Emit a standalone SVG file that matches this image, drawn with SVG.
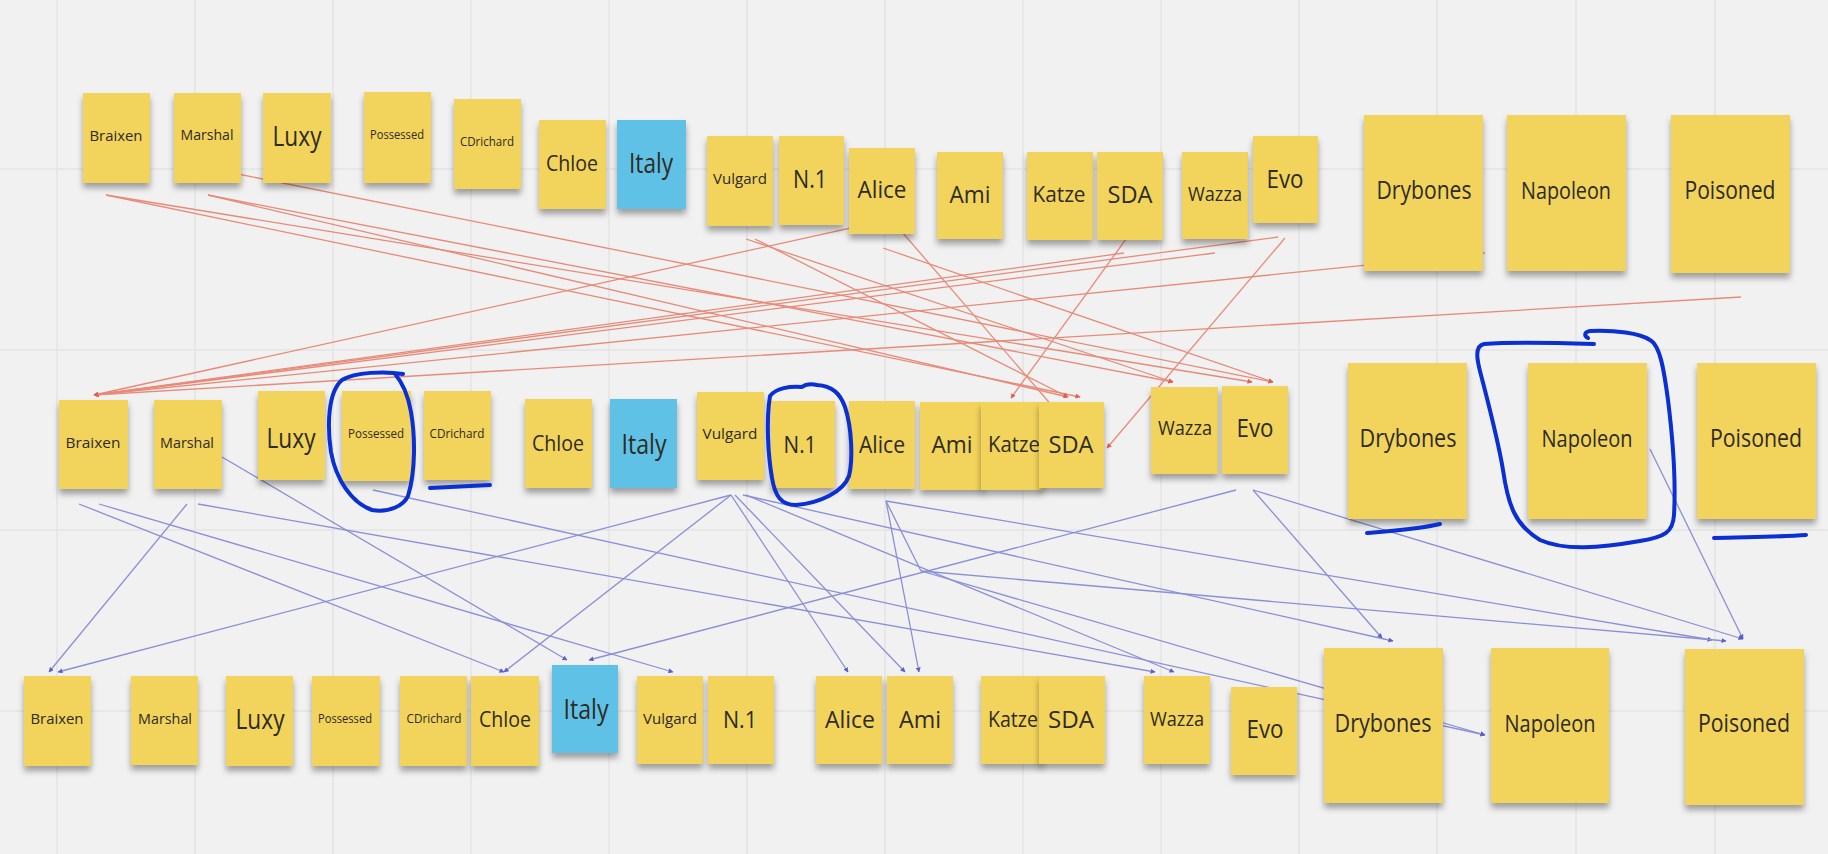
<svg xmlns="http://www.w3.org/2000/svg" width="1828" height="854" viewBox="0 0 1828 854">
<style>
.bg{fill:#f1f1f1}
.grid{stroke:#e4e4e4;stroke-width:1.5}
.n{fill:#f2d35b;filter:url(#sh)}
.b{fill:#5ec1e6;filter:url(#sh)}
.t{font-family:"Open Sans","Noto Sans",sans-serif;fill:#2e2b22;text-anchor:middle;dominant-baseline:central}
.red{stroke:#e88a78;stroke-width:1.3;fill:none;marker-end:url(#ar)}
.blu{stroke:#8b8fd8;stroke-width:1.3;fill:none;marker-end:url(#ab)}
.blu0{stroke:#8b8fd8;stroke-width:1.3;fill:none}
.pen{stroke:#0a2fd2;stroke-width:4;fill:none;stroke-linecap:round;stroke-linejoin:round}
</style>
<defs>
<filter id="sh" x="-20%" y="-20%" width="140%" height="150%">
<feDropShadow dx="0" dy="5" stdDeviation="3" flood-color="#000" flood-opacity="0.35"/>
</filter>
<marker id="ar" viewBox="0 0 10 10" refX="9" refY="5" markerWidth="5" markerHeight="5" orient="auto" markerUnits="userSpaceOnUse"><path d="M0,0L10,5L0,10z" fill="#e0604a"/></marker>
<marker id="ab" viewBox="0 0 10 10" refX="9" refY="5" markerWidth="5" markerHeight="5" orient="auto" markerUnits="userSpaceOnUse"><path d="M0,0L10,5L0,10z" fill="#5a5fcf"/></marker>
</defs>
<rect class="bg" x="0" y="0" width="1828" height="854"/>
<g id="grid">
<path class="grid" d="M57,0V854M195,0V854M333,0V854M471,0V854M609,0V854M747,0V854M885,0V854M1023,0V854M1161,0V854M1299,0V854M1437,0V854M1576,0V854M1715,0V854M0,169H1828M0,350H1828M0,530H1828M0,711H1828"/>
</g>
<g id="connectors">
<g id="red">
<line class="red" x1="106" y1="195" x2="1080" y2="397"/>
<line class="red" x1="106" y1="195" x2="1252" y2="382"/>
<line class="red" x1="208" y1="195" x2="1068" y2="397"/>
<line class="red" x1="208" y1="195" x2="1173" y2="382"/>
<line class="red" x1="228" y1="172" x2="1273" y2="382"/>
<line class="red" x1="746" y1="239" x2="1173" y2="382"/>
<line class="red" x1="755" y1="239" x2="1068" y2="397"/>
<line class="red" x1="883" y1="248" x2="1273" y2="382"/>
<line class="red" x1="896" y1="225" x2="1066" y2="422"/>
<line class="red" x1="1134" y1="228" x2="1011" y2="398"/>
<line class="red" x1="1285" y1="238" x2="1107" y2="448"/>
<line class="red" x1="914" y1="214" x2="94" y2="395"/>
<line class="red" x1="1124" y1="253" x2="94" y2="395"/>
<line class="red" x1="1215" y1="253" x2="94" y2="395"/>
<line class="red" x1="1278" y1="237" x2="94" y2="395"/>
<line class="red" x1="1485" y1="253" x2="94" y2="395"/>
<line class="red" x1="1741" y1="297" x2="94" y2="395"/>
</g>
<g id="blue">
<line class="blu" x1="79" y1="504" x2="504" y2="672"/>
<line class="blu" x1="99" y1="504" x2="673" y2="672"/>
<line class="blu" x1="187" y1="504" x2="49" y2="672"/>
<line class="blu" x1="198" y1="504" x2="1155" y2="672"/>
<line class="blu" x1="222" y1="457" x2="567" y2="660"/>
<line class="blu" x1="373" y1="490" x2="1485" y2="735"/>
<line class="blu" x1="731" y1="495" x2="58" y2="672"/>
<line class="blu" x1="731" y1="495" x2="504" y2="672"/>
<line class="blu" x1="731" y1="495" x2="848" y2="672"/>
<line class="blu" x1="735" y1="495" x2="905" y2="672"/>
<line class="blu" x1="746" y1="495" x2="1174" y2="672"/>
<line class="blu" x1="743" y1="495" x2="1393" y2="641"/>
<line class="blu" x1="886" y1="501" x2="919" y2="672"/>
<line class="blu" x1="886" y1="501" x2="1712" y2="640"/>
<line class="blu0" x1="886" y1="501" x2="921" y2="571"/>
<line class="blu" x1="921" y1="571" x2="1726" y2="641"/>
<line class="blu" x1="921" y1="571" x2="1485" y2="735"/>
<line class="blu" x1="1236" y1="490" x2="589" y2="660"/>
<line class="blu" x1="1253" y1="490" x2="1382" y2="638"/>
<line class="blu" x1="1253" y1="490" x2="1743" y2="639"/>
<line class="blu" x1="1650" y1="449" x2="1743" y2="639"/>
</g>
</g>
<g id="row1">
<g id="r1-braixen"><rect class="n" x="83" y="93" width="67" height="90"/><text class="t" x="116" y="135" font-size="15" textLength="53" lengthAdjust="spacingAndGlyphs">Braixen</text></g>
<g id="r1-marshal"><rect class="n" x="174" y="93" width="67" height="90"/><text class="t" x="207" y="134" font-size="15" textLength="53" lengthAdjust="spacingAndGlyphs">Marshal</text></g>
<g id="r1-luxy"><rect class="n" x="263" y="93" width="68" height="90"/><text class="t" x="297" y="135" font-size="27" textLength="49" lengthAdjust="spacingAndGlyphs">Luxy</text></g>
<g id="r1-possessed"><rect class="n" x="364" y="92" width="67" height="91"/><text class="t" x="397" y="134" font-size="12" textLength="54" lengthAdjust="spacingAndGlyphs">Possessed</text></g>
<g id="r1-cdrichard"><rect class="n" x="454" y="99" width="67" height="90"/><text class="t" x="487" y="141" font-size="13" textLength="54" lengthAdjust="spacingAndGlyphs">CDrichard</text></g>
<g id="r1-chloe"><rect class="n" x="539" y="120" width="67" height="89"/><text class="t" x="572" y="162" font-size="22" textLength="52" lengthAdjust="spacingAndGlyphs">Chloe</text></g>
<g id="r1-italy"><rect class="b" x="617" y="120" width="69" height="89"/><text class="t" x="651" y="162" font-size="27" textLength="44" lengthAdjust="spacingAndGlyphs">Italy</text></g>
<g id="r1-vulgard"><rect class="n" x="707" y="136" width="66" height="90"/><text class="t" x="740" y="178" font-size="14" textLength="54" lengthAdjust="spacingAndGlyphs">Vulgard</text></g>
<g id="r1-n1"><rect class="n" x="779" y="136" width="65" height="89"/><text class="t" x="810" y="178" font-size="25" textLength="34" lengthAdjust="spacingAndGlyphs">N.1</text></g>
<g id="r1-alice"><rect class="n" x="849" y="148" width="66" height="86"/><text class="t" x="882" y="188" font-size="24" textLength="49" lengthAdjust="spacingAndGlyphs">Alice</text></g>
<g id="r1-ami"><rect class="n" x="937" y="152" width="66" height="87"/><text class="t" x="970" y="193" font-size="24" textLength="41" lengthAdjust="spacingAndGlyphs">Ami</text></g>
<g id="r1-katze"><rect class="n" x="1027" y="152" width="66" height="88"/><text class="t" x="1059" y="193" font-size="22" textLength="53" lengthAdjust="spacingAndGlyphs">Katze</text></g>
<g id="r1-sda"><rect class="n" x="1097" y="152" width="66" height="88"/><text class="t" x="1130" y="193" font-size="24" textLength="45" lengthAdjust="spacingAndGlyphs">SDA</text></g>
<g id="r1-wazza"><rect class="n" x="1182" y="152" width="66" height="87"/><text class="t" x="1215" y="193" font-size="20" textLength="54" lengthAdjust="spacingAndGlyphs">Wazza</text></g>
<g id="r1-evo"><rect class="n" x="1253" y="136" width="65" height="87"/><text class="t" x="1285" y="178" font-size="26" textLength="37" lengthAdjust="spacingAndGlyphs">Evo</text></g>
<g id="r1-drybones"><rect class="n" x="1364" y="115" width="119" height="156"/><text class="t" x="1424" y="189" font-size="26" textLength="95" lengthAdjust="spacingAndGlyphs">Drybones</text></g>
<g id="r1-napoleon"><rect class="n" x="1507" y="115" width="119" height="156"/><text class="t" x="1566" y="189" font-size="24" textLength="90" lengthAdjust="spacingAndGlyphs">Napoleon</text></g>
<g id="r1-poisoned"><rect class="n" x="1671" y="115" width="119" height="158"/><text class="t" x="1730" y="189" font-size="26" textLength="91" lengthAdjust="spacingAndGlyphs">Poisoned</text></g>
</g>
<g id="row2">
<g id="r2-braixen"><rect class="n" x="59" y="400" width="69" height="89"/><text class="t" x="93" y="442" font-size="15" textLength="55" lengthAdjust="spacingAndGlyphs">Braixen</text></g>
<g id="r2-marshal"><rect class="n" x="154" y="400" width="68" height="89"/><text class="t" x="187" y="442" font-size="15" textLength="54" lengthAdjust="spacingAndGlyphs">Marshal</text></g>
<g id="r2-luxy"><rect class="n" x="258" y="391" width="67" height="89"/><text class="t" x="291" y="437" font-size="27" textLength="49" lengthAdjust="spacingAndGlyphs">Luxy</text></g>
<g id="r2-possessed"><rect class="n" x="342" y="391" width="69" height="90"/><text class="t" x="376" y="433" font-size="12" textLength="56" lengthAdjust="spacingAndGlyphs">Possessed</text></g>
<g id="r2-cdrichard"><rect class="n" x="424" y="391" width="67" height="89"/><text class="t" x="457" y="433" font-size="13" textLength="55" lengthAdjust="spacingAndGlyphs">CDrichard</text></g>
<g id="r2-chloe"><rect class="n" x="525" y="399" width="67" height="89"/><text class="t" x="558" y="442" font-size="22" textLength="52" lengthAdjust="spacingAndGlyphs">Chloe</text></g>
<g id="r2-italy"><rect class="b" x="610" y="399" width="67" height="89"/><text class="t" x="644" y="443" font-size="27" textLength="45" lengthAdjust="spacingAndGlyphs">Italy</text></g>
<g id="r2-vulgard"><rect class="n" x="697" y="392" width="67" height="88"/><text class="t" x="730" y="433" font-size="14" textLength="55" lengthAdjust="spacingAndGlyphs">Vulgard</text></g>
<g id="r2-n1"><rect class="n" x="771" y="401" width="64" height="87"/><text class="t" x="800" y="443" font-size="24" textLength="33" lengthAdjust="spacingAndGlyphs">N.1</text></g>
<g id="r2-alice"><rect class="n" x="849" y="401" width="66" height="88"/><text class="t" x="882" y="443" font-size="24" textLength="46" lengthAdjust="spacingAndGlyphs">Alice</text></g>
<g id="r2-ami"><rect class="n" x="920" y="402" width="64" height="88"/><text class="t" x="952" y="443" font-size="24" textLength="41" lengthAdjust="spacingAndGlyphs">Ami</text></g>
<g id="r2-katze"><rect class="n" x="981" y="402" width="62" height="88"/><text class="t" x="1014" y="443" font-size="22" textLength="52" lengthAdjust="spacingAndGlyphs">Katze</text></g>
<g id="r2-sda"><rect class="n" x="1039" y="402" width="65" height="86"/><text class="t" x="1071" y="443" font-size="24" textLength="45" lengthAdjust="spacingAndGlyphs">SDA</text></g>
<g id="r2-wazza"><rect class="n" x="1151" y="387" width="67" height="87"/><text class="t" x="1185" y="427" font-size="20" textLength="54" lengthAdjust="spacingAndGlyphs">Wazza</text></g>
<g id="r2-evo"><rect class="n" x="1222" y="386" width="66" height="88"/><text class="t" x="1255" y="427" font-size="26" textLength="37" lengthAdjust="spacingAndGlyphs">Evo</text></g>
<g id="r2-drybones"><rect class="n" x="1348" y="363" width="119" height="156"/><text class="t" x="1408" y="437" font-size="26" textLength="97" lengthAdjust="spacingAndGlyphs">Drybones</text></g>
<g id="r2-napoleon"><rect class="n" x="1528" y="363" width="119" height="156"/><text class="t" x="1587" y="437" font-size="24" textLength="91" lengthAdjust="spacingAndGlyphs">Napoleon</text></g>
<g id="r2-poisoned"><rect class="n" x="1697" y="363" width="119" height="156"/><text class="t" x="1756" y="437" font-size="26" textLength="92" lengthAdjust="spacingAndGlyphs">Poisoned</text></g>
</g>
<g id="row3">
<g id="r3-braixen"><rect class="n" x="24" y="676" width="67" height="90"/><text class="t" x="57" y="718" font-size="15" textLength="53" lengthAdjust="spacingAndGlyphs">Braixen</text></g>
<g id="r3-marshal"><rect class="n" x="131" y="676" width="67" height="89"/><text class="t" x="165" y="718" font-size="15" textLength="54" lengthAdjust="spacingAndGlyphs">Marshal</text></g>
<g id="r3-luxy"><rect class="n" x="226" y="676" width="67" height="90"/><text class="t" x="260" y="718" font-size="27" textLength="49" lengthAdjust="spacingAndGlyphs">Luxy</text></g>
<g id="r3-possessed"><rect class="n" x="312" y="676" width="68" height="90"/><text class="t" x="345" y="718" font-size="12" textLength="54" lengthAdjust="spacingAndGlyphs">Possessed</text></g>
<g id="r3-cdrichard"><rect class="n" x="400" y="676" width="67" height="90"/><text class="t" x="434" y="718" font-size="13" textLength="55" lengthAdjust="spacingAndGlyphs">CDrichard</text></g>
<g id="r3-chloe"><rect class="n" x="471" y="676" width="68" height="90"/><text class="t" x="505" y="718" font-size="22" textLength="52" lengthAdjust="spacingAndGlyphs">Chloe</text></g>
<g id="r3-italy"><rect class="b" x="552" y="665" width="66" height="88"/><text class="t" x="586" y="708" font-size="27" textLength="45" lengthAdjust="spacingAndGlyphs">Italy</text></g>
<g id="r3-vulgard"><rect class="n" x="637" y="676" width="66" height="88"/><text class="t" x="670" y="718" font-size="14" textLength="54" lengthAdjust="spacingAndGlyphs">Vulgard</text></g>
<g id="r3-n1"><rect class="n" x="708" y="676" width="66" height="88"/><text class="t" x="740" y="718" font-size="24" textLength="34" lengthAdjust="spacingAndGlyphs">N.1</text></g>
<g id="r3-alice"><rect class="n" x="816" y="676" width="66" height="88"/><text class="t" x="850" y="718" font-size="24" textLength="50" lengthAdjust="spacingAndGlyphs">Alice</text></g>
<g id="r3-ami"><rect class="n" x="887" y="676" width="66" height="88"/><text class="t" x="920" y="718" font-size="24" textLength="42" lengthAdjust="spacingAndGlyphs">Ami</text></g>
<g id="r3-katze"><rect class="n" x="981" y="676" width="62" height="88"/><text class="t" x="1013" y="718" font-size="22" textLength="50" lengthAdjust="spacingAndGlyphs">Katze</text></g>
<g id="r3-sda"><rect class="n" x="1039" y="676" width="66" height="88"/><text class="t" x="1071" y="718" font-size="24" textLength="46" lengthAdjust="spacingAndGlyphs">SDA</text></g>
<g id="r3-wazza"><rect class="n" x="1144" y="676" width="66" height="88"/><text class="t" x="1177" y="718" font-size="20" textLength="54" lengthAdjust="spacingAndGlyphs">Wazza</text></g>
<g id="r3-evo"><rect class="n" x="1231" y="687" width="66" height="88"/><text class="t" x="1265" y="728" font-size="26" textLength="37" lengthAdjust="spacingAndGlyphs">Evo</text></g>
<g id="r3-drybones"><rect class="n" x="1324" y="648" width="119" height="155"/><text class="t" x="1383" y="722" font-size="26" textLength="97" lengthAdjust="spacingAndGlyphs">Drybones</text></g>
<g id="r3-napoleon"><rect class="n" x="1491" y="648" width="118" height="155"/><text class="t" x="1550" y="722" font-size="24" textLength="91" lengthAdjust="spacingAndGlyphs">Napoleon</text></g>
<g id="r3-poisoned"><rect class="n" x="1685" y="649" width="119" height="156"/><text class="t" x="1744" y="722" font-size="26" textLength="92" lengthAdjust="spacingAndGlyphs">Poisoned</text></g>
</g>
<g id="pen-marks">
<path class="pen" d="M403,374 C385,371 355,372 342,380 C328,392 327,425 331,452 C336,480 352,503 372,510 C390,513 404,505 408,496 C416,470 415,435 411,412 C408,395 402,382 395,374"/>
<path class="pen" d="M770,396 C776,388 790,386 802,387 C806,384 812,384 817,385 C832,386 840,393 845,407 C852,428 853,460 849,476 C843,492 820,503 796,505 C781,505 775,496 772,478 C768,455 766,420 770,396"/>
<path class="pen" d="M430,488 L490,485"/>
<path class="pen" d="M1367,533 C1390,531 1420,529 1440,524"/>
<path class="pen" d="M1714,538 C1745,537 1780,537 1806,535"/>
<path class="pen" d="M1594,344 C1560,343 1510,342 1484,344 C1474,346 1477,360 1481,375 C1490,410 1498,440 1503,470 C1508,505 1515,525 1540,540 C1565,551 1600,548 1640,541 C1665,537 1673,532 1674,515 C1676,480 1673,440 1668,400 C1664,370 1660,345 1650,340 C1640,333 1615,330 1590,331 C1584,332 1584,336 1588,338"/>
</g>
</svg>
